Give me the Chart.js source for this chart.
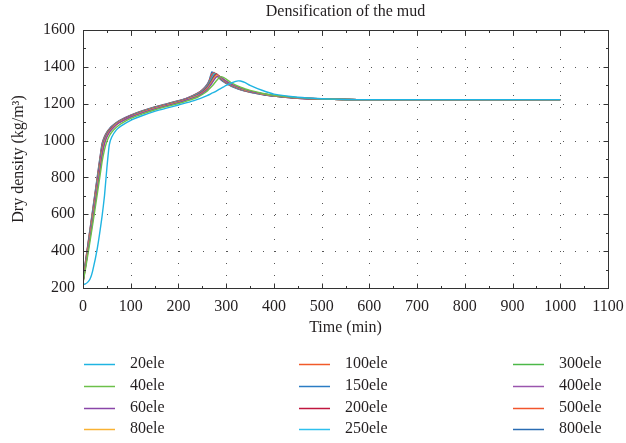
<!DOCTYPE html>
<html>
<head>
<meta charset="utf-8">
<script src="https://cdn.jsdelivr.net/npm/chart.js@4/dist/chart.umd.min.js"></script>
<style>
  html, body { margin: 0; padding: 0; background: #ffffff; }
  #wrap { width: 626px; height: 443px; }
</style>
</head>
<body>
<div id="wrap"><canvas id="c" width="626" height="443"></canvas></div>
<script>
// Time axis (min), shared by every mesh series
const times = [0, 5, 10, 15, 20, 30, 40, 45, 50, 55, 60, 70, 80, 100, 125, 150, 175, 200, 220, 240, 250, 260, 265, 270, 275, 280, 285, 290, 295, 300, 310, 320, 325, 330, 340, 350, 375, 400, 450, 500, 550, 600, 800, 1000];

// Dry density (kg/m3) for each mesh size
const ele20  = [218, 222, 232, 250, 290, 415, 590, 700, 850, 975, 1018, 1058, 1080, 1110, 1136, 1158, 1176, 1193, 1207, 1224, 1233, 1244, 1250, 1257, 1263, 1270, 1278, 1285, 1292, 1299, 1311, 1321, 1324, 1323, 1314, 1300, 1273, 1252, 1235, 1227, 1223, 1222, 1222, 1222];
const ele40  = [228, 300, 378, 458, 540, 710, 885, 950, 995, 1025, 1045, 1072, 1092, 1120, 1145, 1166, 1184, 1201, 1217, 1235, 1250, 1268, 1281, 1295, 1310, 1326, 1340, 1347, 1341, 1333, 1315, 1301, 1295, 1290, 1280, 1272, 1257, 1246, 1233, 1226, 1223, 1222, 1222, 1222];
const ele60  = [231, 310, 394, 478, 562, 740, 920, 983, 1019, 1043, 1060, 1086, 1103, 1128, 1152, 1172, 1189, 1206, 1223, 1240, 1256, 1277, 1293, 1311, 1331, 1346, 1351, 1342, 1332, 1323, 1307, 1295, 1290, 1285, 1276, 1268, 1255, 1245, 1232, 1226, 1223, 1222, 1222, 1222];
const ele80  = [232, 313, 398, 483, 568, 747, 928, 988, 1022, 1046, 1062, 1088, 1104, 1129, 1153, 1173, 1190, 1207, 1224, 1242, 1258, 1280, 1297, 1316, 1337, 1353, 1350, 1341, 1330, 1321, 1306, 1294, 1289, 1284, 1275, 1268, 1254, 1244, 1232, 1226, 1223, 1222, 1222, 1222];
const ele100 = [233, 316, 402, 488, 574, 754, 935, 992, 1025, 1048, 1064, 1089, 1105, 1130, 1154, 1174, 1191, 1208, 1225, 1244, 1260, 1283, 1300, 1320, 1342, 1356, 1351, 1340, 1329, 1320, 1305, 1293, 1288, 1283, 1274, 1267, 1254, 1244, 1231, 1225, 1223, 1222, 1222, 1222];
const ele150 = [234, 319, 406, 493, 580, 761, 942, 996, 1028, 1050, 1066, 1090, 1106, 1131, 1155, 1175, 1192, 1209, 1226, 1246, 1262, 1286, 1304, 1325, 1347, 1358, 1350, 1339, 1328, 1319, 1304, 1292, 1287, 1282, 1273, 1266, 1253, 1243, 1231, 1225, 1223, 1222, 1222, 1222];
const ele200 = [235, 322, 410, 498, 586, 768, 949, 1000, 1031, 1052, 1068, 1091, 1107, 1132, 1156, 1176, 1193, 1210, 1227, 1248, 1264, 1289, 1308, 1330, 1352, 1361, 1350, 1338, 1327, 1318, 1303, 1291, 1286, 1281, 1273, 1266, 1253, 1243, 1231, 1225, 1223, 1222, 1222, 1222];
const ele250 = [236, 325, 414, 503, 592, 775, 956, 1004, 1034, 1054, 1069, 1092, 1108, 1133, 1157, 1177, 1194, 1211, 1228, 1250, 1267, 1292, 1312, 1337, 1361, 1358, 1349, 1337, 1326, 1317, 1302, 1290, 1285, 1280, 1272, 1265, 1252, 1243, 1231, 1225, 1223, 1222, 1222, 1222];
const ele300 = [238, 328, 418, 508, 598, 782, 963, 1008, 1037, 1056, 1071, 1093, 1109, 1134, 1158, 1178, 1195, 1212, 1229, 1252, 1269, 1295, 1316, 1343, 1364, 1359, 1348, 1336, 1325, 1316, 1301, 1289, 1284, 1279, 1271, 1264, 1252, 1242, 1231, 1225, 1223, 1222, 1222, 1222];
const ele400 = [240, 331, 422, 513, 604, 789, 970, 1013, 1040, 1058, 1073, 1095, 1111, 1136, 1160, 1180, 1197, 1214, 1231, 1254, 1272, 1298, 1320, 1350, 1367, 1358, 1346, 1334, 1323, 1314, 1300, 1288, 1283, 1278, 1270, 1264, 1251, 1242, 1230, 1225, 1223, 1222, 1222, 1222];
const ele500 = [242, 335, 427, 519, 611, 797, 978, 1018, 1043, 1060, 1075, 1096, 1112, 1137, 1161, 1181, 1198, 1215, 1232, 1256, 1274, 1301, 1325, 1360, 1369, 1355, 1343, 1331, 1321, 1312, 1298, 1287, 1282, 1277, 1269, 1263, 1251, 1241, 1230, 1225, 1223, 1222, 1222, 1222];
const ele800 = [245, 340, 432, 525, 618, 805, 985, 1022, 1046, 1063, 1077, 1098, 1114, 1138, 1162, 1182, 1199, 1216, 1233, 1258, 1276, 1305, 1332, 1373, 1365, 1352, 1340, 1328, 1318, 1310, 1296, 1285, 1280, 1276, 1268, 1262, 1250, 1241, 1230, 1225, 1223, 1222, 1222, 1222];

const seriesNames = ['20ele', '40ele', '60ele', '80ele', '100ele', '150ele', '200ele', '250ele', '300ele', '400ele', '500ele', '800ele'];
const seriesValues = [ele20, ele40, ele60, ele80, ele100, ele150, ele200, ele250, ele300, ele400, ele500, ele800];
const seriesColors = ['#1fb4e2', '#6cc04a', '#8a46a8', '#f9b233', '#f15a29', '#2b7cc4', '#c0163f', '#2ec0ee', '#4cb848', '#9a55ad', '#f2552c', '#2a6cb3'];

const xTicks = [0, 100, 200, 300, 400, 500, 600, 700, 800, 900, 1000, 1100];
const yTicks = [200, 400, 600, 800, 1000, 1200, 1400, 1600];

const FONT = '"Liberation Serif", "DejaVu Serif", serif';
const INK = '#231f20';

// Dotted grid, boxed frame with inward ticks, title and a three-column legend
const framePlugin = {
  id: 'frame',
  beforeDatasetsDraw(chart) {
    const { ctx, chartArea: a, scales: { x, y } } = chart;
    ctx.save();
    ctx.strokeStyle = '#555';
    ctx.lineWidth = 1;
    ctx.setLineDash([1, 11]);
    xTicks.forEach(v => {
      if (v <= x.min || v >= x.max) return;
      const px = Math.round(x.getPixelForValue(v)) + 0.5;
      ctx.beginPath(); ctx.moveTo(px, a.bottom); ctx.lineTo(px, a.top); ctx.stroke();
    });
    yTicks.forEach(v => {
      if (v <= y.min || v >= y.max) return;
      const py = Math.round(y.getPixelForValue(v)) + 0.5;
      ctx.beginPath(); ctx.moveTo(a.left, py); ctx.lineTo(a.right, py); ctx.stroke();
    });
    ctx.restore();
  },
  afterDraw(chart) {
    const { ctx, chartArea: a, scales: { x, y } } = chart;
    ctx.save();
    ctx.strokeStyle = '#333';
    ctx.lineWidth = 1;
    ctx.setLineDash([]);
    const L = Math.round(a.left) + 0.5, R = Math.round(a.right) + 0.5;
    const T = Math.round(a.top) + 0.5, B = Math.round(a.bottom) + 0.5;
    ctx.strokeRect(L, T, R - L, B - T);
    ctx.beginPath();
    for (let v = 0; v <= 1100; v += 50) {
      const px = Math.round(x.getPixelForValue(v)) + 0.5;
      const len = v % 100 === 0 ? 5 : 2.5;
      ctx.moveTo(px, B); ctx.lineTo(px, B - len);
      ctx.moveTo(px, T); ctx.lineTo(px, T + len);
    }
    for (let v = 200; v <= 1600; v += 100) {
      const py = Math.round(y.getPixelForValue(v)) + 0.5;
      const len = v % 200 === 0 ? 5 : 2.5;
      ctx.moveTo(L, py); ctx.lineTo(L + len, py);
      ctx.moveTo(R, py); ctx.lineTo(R - len, py);
    }
    ctx.stroke();

    // title
    ctx.fillStyle = INK;
    ctx.font = '16px ' + FONT;
    ctx.textAlign = 'center';
    ctx.textBaseline = 'middle';
    ctx.fillText('Densification of the mud', (a.left + a.right) / 2, 12);

    // legend, column by column
    const colX = [84, 299, 513];
    const rowY = [364, 386, 408, 429];
    ctx.textAlign = 'left';
    chart.data.datasets.forEach((ds, i) => {
      const cx = colX[Math.floor(i / 4)];
      const cy = rowY[i % 4];
      ctx.strokeStyle = ds.borderColor;
      ctx.lineWidth = 1.5;
      ctx.beginPath(); ctx.moveTo(cx, cy + 0.5); ctx.lineTo(cx + 31, cy + 0.5); ctx.stroke();
      ctx.fillStyle = INK;
      ctx.fillText(ds.label, cx + 46, cy);
    });
    ctx.restore();
  }
};

new Chart(document.getElementById('c'), {
  type: 'line',
  data: {
    labels: times,
    datasets: seriesNames.map((name, i) => ({
      label: name,
      data: seriesValues[i].map((v, k) => ({ x: times[k], y: v })),
      borderColor: seriesColors[i],
      backgroundColor: seriesColors[i],
      borderWidth: 1.4,
      pointRadius: 0,
      fill: false,
      tension: 0.15
    }))
  },
  options: {
    responsive: false,
    animation: false,
    devicePixelRatio: 1,
    layout: { autoPadding: false, padding: { left: 0, right: 18, top: 30, bottom: 105 } },
    plugins: { legend: { display: false }, title: { display: false }, tooltip: { enabled: false } },
    scales: {
      x: {
        type: 'linear', min: 0, max: 1100,
        afterBuildTicks(s) { s.ticks = xTicks.map(v => ({ value: v })); },
        afterFit(s) { s.height = 50; s.paddingLeft = 0; s.paddingRight = 0; },
        grid: { display: false, drawTicks: false },
        border: { display: false },
        ticks: { color: INK, font: { family: FONT, size: 16 }, padding: 9, maxRotation: 0, autoSkip: false, callback: v => String(v) },
        title: { display: true, text: 'Time (min)', color: INK, font: { family: FONT, size: 16 }, padding: { top: 0, bottom: 1 } }
      },
      y: {
        type: 'linear', min: 200, max: 1600,
        afterBuildTicks(s) { s.ticks = yTicks.map(v => ({ value: v })); },
        afterFit(s) { s.width = 83; s.paddingTop = 0; s.paddingBottom = 0; },
        grid: { display: false, drawTicks: false },
        border: { display: false },
        ticks: { color: INK, font: { family: FONT, size: 16 }, padding: 8, autoSkip: false, callback: v => String(v) },
        title: { display: true, text: 'Dry density (kg/m\u00B3)', color: INK, font: { family: FONT, size: 16 }, padding: { top: 9, bottom: 0 } }
      }
    }
  },
  plugins: [framePlugin]
});
</script>
</body>
</html>
